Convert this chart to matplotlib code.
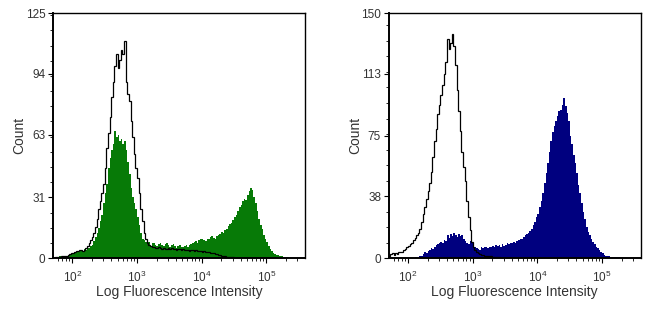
import numpy as np
import matplotlib
matplotlib.use('Agg')
import matplotlib.pyplot as plt
from matplotlib.ticker import FixedLocator, LogLocator, NullFormatter

plt.rcParams['font.family'] = ['Liberation Sans', 'DejaVu Sans']

# histogram bins: log10 edges from 10^1.70 to 10^5.60, 0.025 decade wide (156 bins)
log_edges = np.linspace(1.70, 5.60, 157)

# left panel: green sample, black control
green_counts = [0.3, 0.6, 0.4, 0.7, 1.1, 0.8, 0.9, 1.2, 1.0, 1.4,
                1.8, 2.2, 2.4, 3.0, 2.8, 3.4, 3.2, 4.0, 3.6, 4.4,
                4.2, 5.0, 5.4, 6.0, 6.5, 8.5, 11, 13, 15.5, 19,
                22, 28, 33, 38, 46, 51, 55, 58, 65, 62,
                63, 60, 61, 58, 60, 55, 49, 43, 36, 31,
                28, 25, 21, 17, 13, 10, 9, 8, 7, 8,
                6, 7.5, 7.5, 6.5, 6, 7, 7.5, 6.5, 6, 7,
                7.5, 6.5, 5.5, 6.5, 7, 6, 5, 6, 6.5, 5.5,
                5.5, 6, 6.5, 5.5, 6.5, 7, 7.5, 8, 8.5, 7.5,
                9, 9.5, 10, 9, 8.5, 9.5, 10, 11, 11.5, 10.5,
                10, 11.5, 12, 12.5, 13.5, 13, 14.5, 15, 16.5, 17.5,
                18, 19.5, 21, 22, 24, 26, 27, 29, 30, 29.5,
                32, 34, 36, 35, 31, 28, 24, 20, 17, 15,
                12, 9.5, 8, 6, 4.5, 3.5, 2.5, 2, 1.5, 1.5,
                1, 1, 0.8, 0.7, 0.5, 0.5, 0.3, 0.2, 0, 0,
                0, 0, 0, 0, 0, 0]
ctrl_left = [0.3, 0.5, 0.5, 0.6, 0.8, 1.0, 1.2, 1.0, 1.3, 1.6,
             2.0, 2.4, 2.8, 3.2, 3.5, 3.8, 4.0, 4.2, 3.8, 4.3,
             5.0, 6.0, 7.5, 9, 11, 13, 16, 20, 25, 29,
             33, 38, 46, 56, 64, 72, 82, 90, 98, 104,
             97, 101, 106, 104, 111, 90, 84, 80, 70, 62,
             53, 46, 41, 33, 25, 19, 13, 9.5, 7.5, 6.5,
             6, 5.5, 5.5, 5, 5, 5.5, 5, 4.5, 5, 4.5,
             4.5, 5, 4.5, 5, 4.5, 4.5, 4, 4.5, 4.5, 4,
             4.5, 4, 4, 4, 3.5, 4, 4, 3.5, 4, 3.5,
             3.5, 3.5, 3, 3.5, 3, 3, 3, 2.5, 2.5, 2.5,
             2, 2, 1.5, 1.5, 1.2, 1.2, 1, 0.8, 0.7, 0.6,
             0.5, 0.4, 0.3, 0.2, 0, 0, 0, 0, 0, 0,
             0, 0, 0, 0, 0, 0, 0, 0, 0, 0,
             0, 0, 0, 0, 0, 0, 0, 0, 0, 0,
             0, 0, 0, 0, 0, 0, 0, 0, 0, 0,
             0, 0, 0, 0, 0, 0]

# right panel: navy sample, black control
navy_counts = [0, 0, 0, 0, 0, 0, 0, 0, 0, 0,
               0, 0, 0, 0, 0.3, 0, 0.4, 0.6, 0.8, 1,
               1.5, 2.5, 3.5, 3, 4.5, 5, 6, 5.5, 7, 8,
               8.5, 9, 10, 9.5, 11, 10.5, 14, 12.5, 15, 13.5,
               15.5, 14, 13, 15, 13.5, 14, 12, 10.5, 9, 8.5,
               10.5, 10, 8, 7, 6, 5.5, 5, 6.5, 6, 7,
               6.5, 6, 7, 6.5, 7.5, 7, 8, 7.5, 8, 7,
               8.5, 7.5, 8, 9, 8.5, 9.5, 9, 10, 9.5, 10.5,
               11, 11.5, 12, 13, 14, 14.5, 15.5, 16.5, 18, 20,
               22, 25, 27, 31, 35, 40, 46, 52, 58, 65,
               72, 77, 81, 84, 87, 90, 91, 94, 98, 93,
               89, 84, 75, 70, 63, 58, 52, 45, 40, 34,
               28, 24, 19, 16, 14, 12, 10, 8.5, 7, 6,
               5, 4, 3, 2, 1.5, 1.2, 1, 0.8, 0.8, 0.6,
               0.5, 0.5, 0.4, 0.3, 0.3, 0.2, 0, 0, 0, 0,
               0, 0, 0, 0, 0, 0]
ctrl_right = [1.5, 2.5, 3, 2, 3, 2.5, 3.5, 4, 4, 5,
              5.5, 6.5, 7.5, 8.5, 9.5, 11, 12.5, 14, 15.5, 18,
              22, 27, 31, 36, 41, 46, 53, 62, 72, 79,
              88, 94, 100, 106, 113, 120, 134, 128, 132, 137,
              130, 118, 103, 90, 78, 65, 56, 47, 35, 25,
              17, 10, 6.5, 5, 3.5, 3, 2.5, 2, 2, 1.5,
              1.5, 1.2, 1, 1, 0.8, 0.7, 0.6, 0.5, 0.4, 0.3,
              0, 0, 0, 0, 0, 0, 0, 0, 0, 0,
              0, 0, 0, 0, 0, 0, 0, 0, 0, 0,
              0, 0, 0, 0, 0, 0, 0, 0, 0, 0,
              0, 0, 0, 0, 0, 0, 0, 0, 0, 0,
              0, 0, 0, 0, 0, 0, 0, 0, 0, 0,
              0, 0, 0, 0, 0, 0, 0, 0, 0, 0,
              0, 0, 0, 0, 0, 0, 0, 0, 0, 0,
              0, 0, 0, 0, 0, 0, 0, 0, 0, 0,
              0, 0, 0, 0, 0, 0]

left_yticks = [0, 31, 63, 94, 125]
right_yticks = [0, 38, 75, 113, 150]

edges = 10 ** log_edges

fig = plt.figure(figsize=(6.5, 3.14), dpi=100)
ax1 = fig.add_axes([0.0815, 0.178, 0.388, 0.780])
ax2 = fig.add_axes([0.598, 0.178, 0.388, 0.780])

panels = [(ax1, green_counts, ctrl_left, '#077a07', left_yticks),
          (ax2, navy_counts, ctrl_right, '#00007f', right_yticks)]

for ax, fill_vals, line_vals, col, yt in panels:
  ax.stairs(fill_vals, edges, fill=True, color=col, lw=0)
  ax.stairs(line_vals, edges, color='black', lw=0.9)
  ax.set_xscale('log')
  ax.set_xlim(edges[0], edges[-1])
  ax.set_ylim(0, yt[-1])
  ax.set_yticks(yt)
  step = (yt[1] - yt[0]) / 4.0
  ax.yaxis.set_minor_locator(FixedLocator(np.arange(0, yt[-1], step)))
  ax.xaxis.set_major_locator(LogLocator(base=10, numticks=10))
  ax.xaxis.set_minor_locator(LogLocator(base=10, subs=np.arange(2, 10), numticks=20))
  ax.xaxis.set_minor_formatter(NullFormatter())
  ax.tick_params(axis='both', which='major', direction='out', length=3.5,
                 width=0.8, labelsize=8.5, pad=2, labelcolor='#333333')
  ax.tick_params(axis='both', which='minor', direction='out', length=2, width=0.6)
  ax.tick_params(axis='x', which='major', pad=5)
  for s in ax.spines.values():
    s.set_linewidth(1.0)
  ax.spines['left'].set_linewidth(1.4)
  ax.spines['bottom'].set_linewidth(1.4)
  ax.set_xlabel('Log Fluorescence Intensity', fontsize=10, color='#333333')
  ax.set_ylabel('Count', fontsize=10, color='#333333')
  ax.xaxis.set_label_coords(0.5, -0.11)
  ax.yaxis.set_label_coords(-0.105, 0.5)

plt.savefig('out.png', dpi=100)
